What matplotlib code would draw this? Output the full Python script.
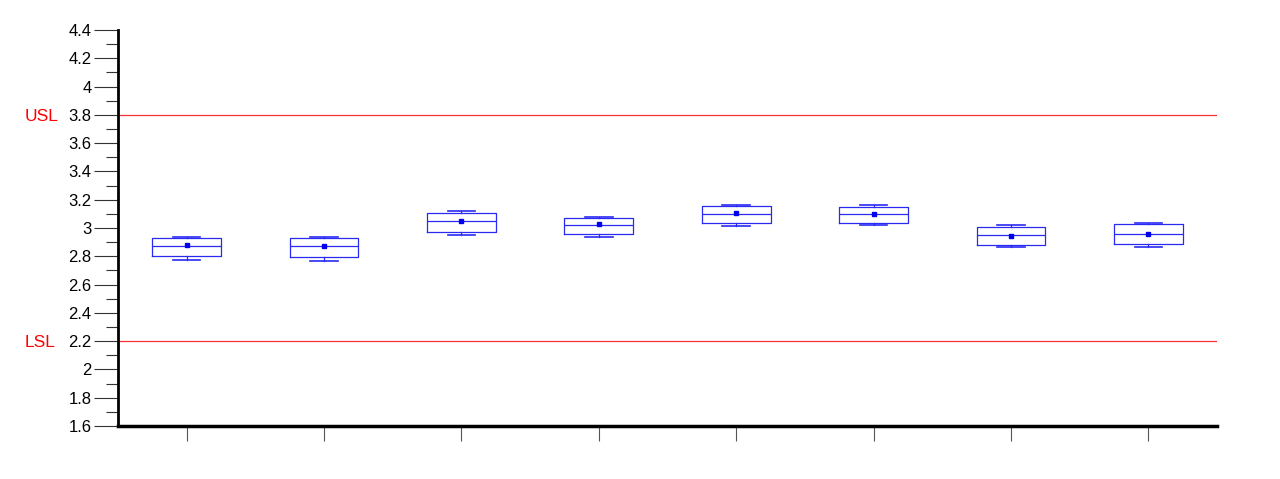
import matplotlib
matplotlib.use("Agg")
import matplotlib.pyplot as plt
import matplotlib.transforms as mtransforms
import numpy as np

plt.rcParams['font.family'] = ['Liberation Sans', 'DejaVu Sans']

# Box statistics (8 groups)
q1 = [2.801, 2.796, 2.973, 2.959, 3.035, 3.035, 2.881, 2.884]
med = [2.874, 2.872, 3.047, 3.023, 3.098, 3.096, 2.948, 2.957]
q3 = [2.931, 2.929, 3.108, 3.068, 3.157, 3.150, 3.009, 3.028]
whislo = [2.771, 2.768, 2.952, 2.936, 3.011, 3.018, 2.863, 2.863]
whishi = [2.934, 2.938, 3.119, 3.077, 3.162, 3.160, 3.018, 3.037]
means = [2.879, 2.872, 3.049, 3.028, 3.103, 3.098, 2.945, 2.959]

usl = 3.8
lsl = 2.2
spec_labels = ['USL', 'LSL']

stats = []
for i in range(len(q1)):
    stats.append(dict(q1=q1[i], med=med[i], q3=q3[i], whislo=whislo[i],
                      whishi=whishi[i], mean=means[i], fliers=[]))

fig = plt.figure(figsize=(12.8, 4.79), dpi=100)
ax = fig.add_axes([0.0922, 0.1106, 0.8586, 0.8268])

blue = '#2a2af5'
positions = np.arange(len(stats)) + 0.5
ax.bxp(stats, positions=positions, widths=0.5, capwidths=0.2, showmeans=True,
       boxprops=dict(color=blue, lw=0.9),
       medianprops=dict(color=blue, lw=0.9),
       whiskerprops=dict(color=blue, lw=0.9),
       capprops=dict(color=blue, lw=1.2),
       meanprops=dict(marker='s', markersize=3.5, markerfacecolor='#0000ee',
                      markeredgecolor='#0000ee'),
       manage_ticks=False)

# spec limits with labels at the far left of the figure
trans = mtransforms.blended_transform_factory(fig.transFigure, ax.transData)
for val, lab in zip([usl, lsl], spec_labels):
    ax.axhline(val, color='#ff3030', lw=0.9)
    ax.text(25 / 1280, val - 0.01, lab, color='#ff0000', fontsize=12.5,
            va='center', ha='left', transform=trans)

ax.set_xlim(0, 8)
ax.set_ylim(1.6, 4.4)
major = np.arange(1.6, 4.41, 0.2)
ax.set_yticks(major)
ax.set_yticklabels(['%g' % round(v, 1) for v in major])
ax.set_yticks(np.arange(1.7, 4.4, 0.2), minor=True)
ax.tick_params(axis='y', which='major', length=17, width=0.8, color='#333333',
               labelsize=12, pad=2)
ax.tick_params(axis='y', which='minor', length=9, width=0.8, color='#333333')
ax.set_xticks(positions)
ax.set_xticklabels([])
ax.tick_params(axis='x', which='major', length=11, width=0.8, color='#555555')

ax.spines['top'].set_visible(False)
ax.spines['right'].set_visible(False)
ax.spines['left'].set_linewidth(2)
ax.spines['bottom'].set_linewidth(2.5)

fig.savefig('out.png', dpi=100)
